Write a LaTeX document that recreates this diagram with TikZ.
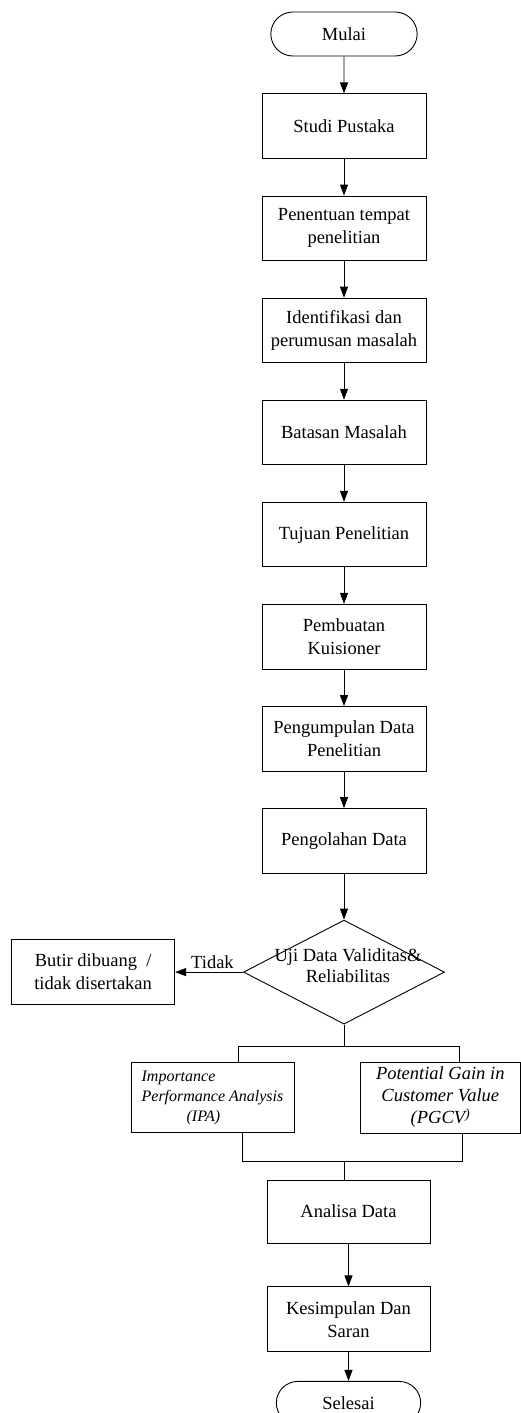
\documentclass[tikz,border=0pt]{standalone}
\usepackage{fontspec}
\setmainfont{Liberation Serif}
\usetikzlibrary{arrows.meta, positioning, calc, shapes.geometric, shapes.misc}

\begin{document}
\begin{tikzpicture}[
		x=1pt, y=1pt,
		node distance=36.6pt,
		line width=0.9pt,
		>={Triangle[length=11pt, width=8pt]},
		box/.style={rectangle, draw, align=center, minimum width=164pt, minimum height=64.6pt, inner sep=2pt, font=\fontsize{18.5}{23}\selectfont},
		terminal/.style={rounded rectangle, draw, minimum width=153pt, minimum height=44pt, font=\fontsize{18.5}{23}\selectfont},
		decision/.style={diamond, draw, inner sep=0pt, minimum width=201pt, minimum height=104pt, font=\fontsize{18.5}{21}\selectfont},
		method/.style={rectangle, draw, minimum width=163pt, minimum height=70pt, inner sep=0pt},
		note/.style={font=\fontsize{18.5}{23}\selectfont}
		]
		
		\useasboundingbox (0,0) rectangle (521,-1413);
		
		% Main chain
		\node[terminal] (mulai) at (344,-34) {Mulai};
		\node[box, below=37pt of mulai] (studi) {Studi Pustaka};
		\node[box, below=of studi] (tempat) {Penentuan tempat\\penelitian};
		\node[box, below=of tempat] (identifikasi) {Identifikasi dan\\perumusan masalah};
		\node[box, below=of identifikasi] (batasan) {Batasan Masalah};
		\node[box, below=of batasan] (tujuan) {Tujuan Penelitian};
		\node[box, below=of tujuan] (kuisioner) {Pembuatan\\Kuisioner};
		\node[box, below=of kuisioner] (pengumpulan) {Pengumpulan Data\\Penelitian};
		\node[box, below=of pengumpulan] (pengolahan) {Pengolahan Data};
		
		% Decision (text is allowed to run over the edges)
		\node[decision, below=46pt of pengolahan] (uji) {\smash{\makebox[0pt]{\hspace{8pt}\begin{tabular}{@{}c@{}}Uji Data Validitas\&\\Reliabilitas\end{tabular}}}};
		\node[box, left=68pt of uji, minimum width=163pt, minimum height=65pt] (butir) {Butir dibuang~~/\\tidak disertakan};
		
		% Fork into the two methods
		\coordinate (fork) at ($(uji.south)+(0,-22)$);
		\coordinate (forkL) at ($(fork)+(-106,0)$);
		\coordinate (forkR) at ($(fork)+(115,0)$);
		\node[method, font=\fontsize{16}{20}\selectfont\itshape, align=left] (ipa) at (212.5,-1097.5) {Importance\\Performance Analysis\\\hspace*{45pt}(IPA)};
		\node[method, minimum width=160.5pt, minimum height=71pt, font=\fontsize{18.5}{22}\selectfont\itshape, align=center] (pgcv) at (440.25,-1097.5) {Potential Gain in\\Customer Value\\(PGCV\raisebox{5pt}{\fontsize{14}{14}\selectfont )}};
		
		% Join below the methods
		\coordinate (joinM) at ($(fork)+(0,-115)$);
		\coordinate (joinL) at ($(joinM)+(-102,0)$);
		\coordinate (joinR) at ($(joinM)+(118,0)$);
		
		\node[box, minimum width=163pt, minimum height=63pt, below=18pt of joinM, xshift=4.5pt] (analisa) {Analisa Data};
		\node[box, minimum width=163pt, below=43pt of analisa] (kesimpulan) {Kesimpulan Dan\\Saran};
		\node[terminal, minimum width=151pt, minimum height=43pt, below=29pt of kesimpulan] (selesai) {Selesai};
		
		% Arrows
		\draw[->] (mulai) -- (studi);
		\draw[->] (studi) -- (tempat);
		\draw[->] (tempat) -- (identifikasi);
		\draw[->] (identifikasi) -- (batasan);
		\draw[->] (batasan) -- (tujuan);
		\draw[->] (tujuan) -- (kuisioner);
		\draw[->] (kuisioner) -- (pengumpulan);
		\draw[->] (pengumpulan) -- (pengolahan);
		\draw[->] (pengolahan) -- (uji);
		\draw[->] (uji.west) -- node[note, above, pos=0.45] {Tidak} (butir.east);
		
		% Plain connectors round the methods
		\draw (uji.south) -- (fork);
		\draw (forkL |- ipa.north) -- (forkL) -- (forkR) -- (forkR |- pgcv.north);
		\draw (joinL |- ipa.south) -- (joinL) -- (joinR) -- (joinR |- pgcv.south);
		\draw (joinM) -- (joinM |- analisa.north);
		
		\draw[->] (analisa) -- (kesimpulan);
		\draw[->] (kesimpulan) -- (selesai);
		
	\end{tikzpicture}
\end{document}
